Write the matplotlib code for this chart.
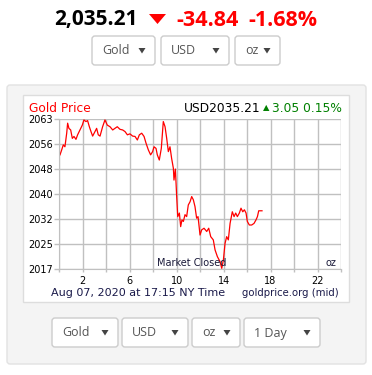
import numpy as np
import matplotlib
matplotlib.use('agg')
import matplotlib.pyplot as plt
from matplotlib.patches import FancyBboxPatch, Rectangle, Polygon

# gold price over the day (hours since midnight NY, USD/oz)
hours = [0.06, 0.20, 0.34, 0.48, 0.63, 0.71, 0.82, 0.97, 1.11, 1.25, 1.42, 1.56,
         1.76, 1.96, 2.10, 2.27, 2.41, 2.56, 2.70, 2.84, 3.04, 3.18, 3.32, 3.47,
         3.69, 3.89, 4.09, 4.32, 4.55, 4.74, 4.94, 5.17, 5.40, 5.60, 5.80, 6.02,
         6.25, 6.45, 6.65, 6.82, 7.02, 7.22, 7.39, 7.59, 7.78, 7.95, 8.07, 8.24,
         8.35, 8.52, 8.69, 8.86, 9.01, 9.15, 9.29, 9.43, 9.57, 9.72, 9.77, 9.89,
         10.00, 10.09, 10.23, 10.34, 10.45, 10.57, 10.71, 10.85, 10.99, 11.14,
         11.28, 11.42, 11.56, 11.70, 11.82, 11.99, 12.13, 12.33, 12.56, 12.73,
         12.90, 13.12, 13.27, 13.47, 13.69, 13.84, 13.98, 14.12, 14.26, 14.40,
         14.55, 14.74, 14.89, 15.03, 15.17, 15.34, 15.48, 15.63, 15.77, 15.91,
         16.02, 16.19, 16.39, 16.59, 16.76, 16.88, 16.99, 17.27]
price = [2052.3, 2053.8, 2055.4, 2054.8, 2059.0, 2062.1, 2060.5, 2060.0, 2057.4,
         2058.0, 2057.1, 2058.5, 2060.0, 2061.5, 2063.1, 2062.6, 2062.9, 2061.0,
         2059.5, 2058.1, 2059.5, 2060.5, 2058.5, 2058.1, 2061.0, 2063.1, 2061.5,
         2061.0, 2060.0, 2060.5, 2061.0, 2060.2, 2060.0, 2059.5, 2058.5, 2058.8,
         2058.1, 2058.0, 2056.9, 2058.5, 2059.0, 2058.0, 2055.9, 2053.8, 2052.3,
         2053.3, 2054.8, 2054.3, 2052.3, 2050.7, 2054.3, 2062.6, 2061.0, 2057.4,
         2053.3, 2054.8, 2051.2, 2048.1, 2044.5, 2047.9, 2039.4, 2033.2, 2034.3,
         2030.1, 2032.2, 2031.7, 2033.8, 2033.2, 2036.8, 2037.8, 2039.4, 2038.4,
         2036.3, 2032.7, 2033.2, 2027.5, 2029.1, 2029.6, 2028.6, 2029.6, 2027.0,
         2026.0, 2022.9, 2020.8, 2019.3, 2017.2, 2019.8, 2024.9, 2027.0, 2026.0,
         2031.1, 2034.7, 2033.2, 2034.3, 2033.2, 2034.3, 2035.8, 2034.7, 2035.3,
         2034.3, 2031.7, 2030.6, 2030.6, 2031.1, 2032.2, 2033.2, 2035.0, 2035.0]

y_min, y_max = 2016.9, 2063.3
x_ticks = [2, 6, 10, 14, 18, 22]
top_menus = ['Gold', 'USD', 'oz']
bottom_menus = ['Gold', 'USD', 'oz', '1 Day']

W, H = 372, 375
fig = plt.figure(figsize=(W / 100, H / 100), dpi=100)
bg = fig.add_axes([0, 0, 1, 1])
bg.set_xlim(0, W)
bg.set_ylim(H, 0)
bg.axis('off')


def menu(ax, x0, x1, y0, y1, label):
    ax.add_patch(FancyBboxPatch((x0, y0), x1 - x0, y1 - y0,
                                boxstyle='round,pad=0,rounding_size=3',
                                fc='white', ec='#cccccc', lw=1))
    ax.text(x0 + 10, (y0 + y1) / 2 + 0.5, label, ha='left', va='center',
            fontsize=9, color='#555555', family='Open Sans')
    xa = x1 - 13
    ya = (y0 + y1) / 2
    ax.add_patch(Polygon([[xa - 3.5, ya - 2.5], [xa + 3.5, ya - 2.5], [xa, ya + 3]],
                         closed=True, fc='#444444', ec='none'))


# header
bg.text(138, 20, '2,035.21', ha='right', va='center', fontsize=15,
        fontweight='bold', family='Open Sans', color='black')
bg.add_patch(Polygon([[149, 14], [166, 14], [157.5, 24]], closed=True,
                     fc='#ff0000', ec='none'))
bg.text(176, 20, '-34.84', ha='left', va='center', fontsize=15.5,
        fontweight='bold', family='Open Sans', color='#ff0000')
bg.text(317, 20, '-1.68%', ha='right', va='center', fontsize=15.5,
        fontweight='bold', family='Open Sans', color='#ff0000')

for (x0, x1), lab in zip([(92, 155), (161, 229), (235, 280)], top_menus):
    menu(bg, x0, x1, 36, 65, lab)

# outer panel + white chart box
bg.add_patch(FancyBboxPatch((7, 85), 359, 279, boxstyle='round,pad=0,rounding_size=3',
                            fc='#f4f4f4', ec='#e2e2e2', lw=1))
bg.add_patch(Rectangle((22.5, 95), 326.5, 207, fc='white', ec='#dddddd', lw=1))

for (x0, x1), lab in zip([(52, 118), (122, 188), (192, 240), (244, 320)], bottom_menus):
    menu(bg, x0, x1, 318, 347, lab)

# chart
left, right, top, bottom = 59.3, 341.0, 119.3, 269.3
ax = fig.add_axes([left / W, 1 - bottom / H, (right - left) / W, (bottom - top) / H])
ax.plot(hours, price, color='#ff0000', lw=0.9)
ax.set_xlim(0, 24)
ax.set_ylim(y_min, y_max)
yt = np.linspace(y_min, y_max, 7)
ax.set_yticks(yt)
ax.set_yticklabels(['%.0f' % v for v in yt])
ax.set_xticks(np.arange(0, 25, 2))
ax.set_xticklabels(['%d' % h if h in x_ticks else '' for h in np.arange(0, 25, 2)])
ax.grid(True, color='#c0c0c0', lw=1)
for s in ax.spines.values():
    s.set_visible(False)
ax.spines['left'].set_visible(True)
ax.spines['bottom'].set_visible(True)
ax.spines['left'].set_color('#c0c0c0')
ax.spines['bottom'].set_color('#c0c0c0')
ax.tick_params(axis='both', colors='#c0c0c0', labelcolor='black', labelsize=7,
               width=1)
ax.tick_params(axis='x', length=2.5, pad=2)
ax.tick_params(axis='y', length=3.5, pad=1)

ax.text(0.47, 0.045, 'Market Closed', transform=ax.transAxes, ha='center',
        va='center', fontsize=7, color='#1a1a3a')
ax.text(0.965, 0.045, 'oz', transform=ax.transAxes, ha='center', va='center',
        fontsize=7, color='#1a1a3a')

bg.text(29, 108, 'Gold Price', ha='left', va='center', fontsize=8.8, color='#ff0000')
bg.text(272, 108, '3.05 0.15%', ha='left', va='center', fontsize=8.8, color='#008000')
bg.text(266, 108, '\u25b2', ha='center', va='center', fontsize=6, color='#008000')
bg.text(184, 108, 'USD2035.21', ha='left', va='center', fontsize=8.8, color='black')

bg.text(51, 292.5, 'Aug 07, 2020 at 17:15 NY Time', ha='left', va='center',
        fontsize=8, color='#1a1a4a')
bg.text(339, 292.5, 'goldprice.org (mid)', ha='right', va='center',
        fontsize=7.3, color='#1a1a4a')

fig.savefig('out.png', dpi=100)
